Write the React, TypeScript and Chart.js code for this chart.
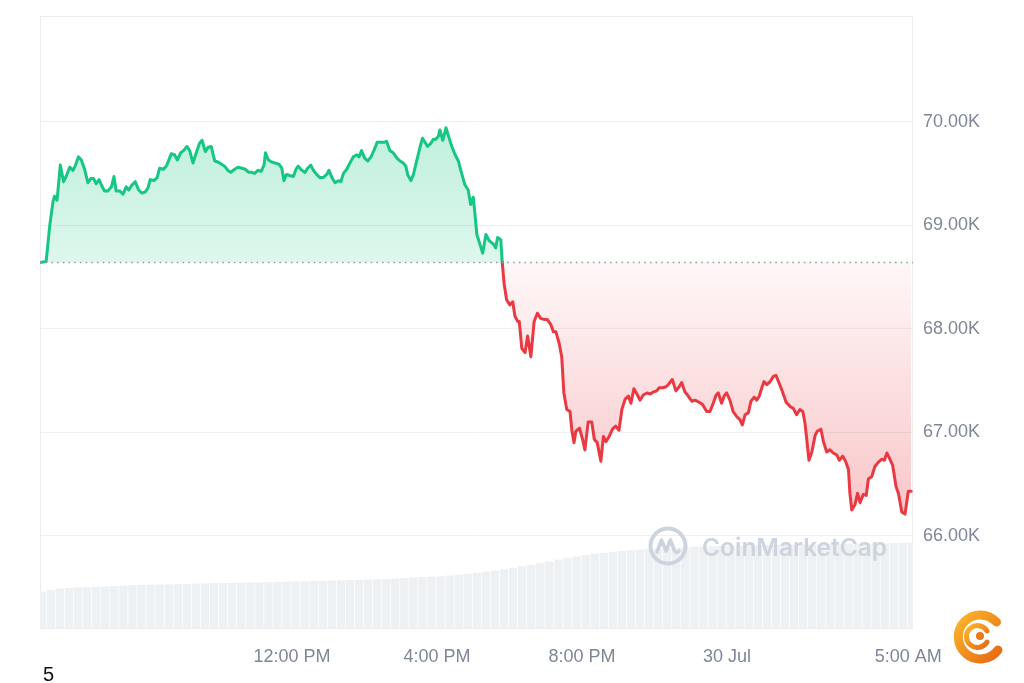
import React, { useEffect, useRef } from "react";
import { Chart, registerables } from "chart.js";

Chart.register(...registerables);

// ---- data (prices in thousands of USD, time in hours since 29 Jul 00:00) ----
const BASE_PRICE = 68.64;

const PRICE_TIMES = [
  5.05, 5.22, 5.32, 5.41, 5.45, 5.52, 5.61, 5.7, 5.77, 5.87, 5.96, 6.03, 6.11, 6.19, 6.28, 6.37, 6.45, 6.53, 6.6, 6.68,
  6.74, 6.83, 6.92, 7.02, 7.09, 7.15, 7.25, 7.34, 7.43, 7.5, 7.59, 7.68, 7.77, 7.86, 7.95, 8.03, 8.09, 8.19, 8.28, 8.35,
  8.46, 8.55, 8.67, 8.76, 8.84, 8.93, 9.01, 9.1, 9.18, 9.27, 9.36, 9.45, 9.52, 9.61, 9.68, 9.77, 9.87, 9.96, 10.05, 10.14,
  10.23, 10.31, 10.42, 10.51, 10.62, 10.71, 10.81, 10.9, 10.97, 11.06, 11.15, 11.23, 11.27, 11.35, 11.44, 11.53, 11.64, 11.72, 11.78, 11.85,
  11.94, 12.04, 12.11, 12.17, 12.27, 12.36, 12.43, 12.52, 12.59, 12.68, 12.77, 12.86, 12.96, 13.02, 13.1, 13.19, 13.28, 13.35, 13.42, 13.51,
  13.6, 13.69, 13.79, 13.85, 13.92, 14.0, 14.09, 14.18, 14.27, 14.35, 14.45, 14.54, 14.61, 14.7, 14.79, 14.89, 14.98, 15.07, 15.14, 15.19,
  15.28, 15.35, 15.44, 15.53, 15.6, 15.67, 15.74, 15.83, 15.9, 15.97, 16.04, 16.08, 16.16, 16.25, 16.31, 16.41, 16.5, 16.59, 16.68, 16.77,
  16.86, 16.93, 17.0, 17.05, 17.1, 17.19, 17.26, 17.35, 17.44, 17.55, 17.62, 17.67, 17.76, 17.8, 17.85, 17.92, 18.01, 18.09, 18.15, 18.23,
  18.27, 18.34, 18.43, 18.5, 18.59, 18.68, 18.77, 18.86, 18.95, 19.04, 19.14, 19.21, 19.28, 19.37, 19.44, 19.5, 19.58, 19.67, 19.72, 19.78,
  19.83, 19.93, 20.01, 20.08, 20.17, 20.27, 20.34, 20.42, 20.52, 20.59, 20.66, 20.75, 20.84, 20.93, 21.02, 21.1, 21.19, 21.28, 21.35, 21.43,
  21.53, 21.6, 21.69, 21.79, 21.88, 21.97, 22.06, 22.13, 22.23, 22.32, 22.38, 22.49, 22.59, 22.68, 22.75, 22.84, 22.93, 23.03, 23.12, 23.23,
  23.32, 23.44, 23.53, 23.62, 23.7, 23.76, 23.85, 23.92, 23.99, 24.08, 24.17, 24.27, 24.36, 24.42, 24.5, 24.59, 24.66, 24.75, 24.82, 24.89,
  24.96, 25.02, 25.1, 25.19, 25.28, 25.35, 25.42, 25.51, 25.63, 25.74, 25.83, 25.92, 26.01, 26.09, 26.15, 26.2, 26.26, 26.34, 26.43, 26.49,
  26.59, 26.66, 26.75, 26.84, 26.93, 27.03, 27.1, 27.19, 27.27, 27.35, 27.39, 27.44, 27.53, 27.6, 27.67, 27.76, 27.84, 27.9, 27.99, 28.08,
  28.17, 28.27, 28.34, 28.41, 28.48, 28.57, 28.66, 28.73, 28.82, 28.91, 29.0, 29.08,
];

const PRICE_VALUES = [
  68.64, 68.65, 69.0, 69.23, 69.28, 69.24, 69.58, 69.42, 69.47, 69.56, 69.53, 69.58, 69.66, 69.63, 69.54, 69.41, 69.45, 69.45, 69.4, 69.44,
  69.39, 69.33, 69.33, 69.37, 69.47, 69.33, 69.33, 69.3, 69.37, 69.34, 69.39, 69.42, 69.34, 69.31, 69.32, 69.36, 69.44, 69.43, 69.46, 69.55,
  69.54, 69.58, 69.69, 69.68, 69.63, 69.7, 69.72, 69.76, 69.72, 69.6, 69.7, 69.79, 69.82, 69.71, 69.75, 69.76, 69.62, 69.61, 69.59, 69.57,
  69.53, 69.51, 69.54, 69.56, 69.55, 69.54, 69.51, 69.51, 69.5, 69.53, 69.52, 69.58, 69.7, 69.63, 69.61, 69.6, 69.59, 69.55, 69.43, 69.49,
  69.48, 69.47, 69.54, 69.57, 69.53, 69.51, 69.55, 69.58, 69.53, 69.49, 69.46, 69.46, 69.49, 69.53, 69.46, 69.41, 69.43, 69.42, 69.5, 69.54,
  69.6, 69.66, 69.68, 69.66, 69.72, 69.65, 69.62, 69.66, 69.73, 69.8, 69.8, 69.8, 69.81, 69.72, 69.7, 69.65, 69.62, 69.6, 69.57, 69.49,
  69.43, 69.49, 69.62, 69.75, 69.84, 69.8, 69.76, 69.79, 69.83, 69.83, 69.86, 69.92, 69.82, 69.94, 69.87, 69.76, 69.68, 69.62, 69.5, 69.39,
  69.34, 69.2, 69.27, 69.1, 68.91, 68.81, 68.73, 68.91, 68.85, 68.82, 68.78, 68.88, 68.86, 68.64, 68.44, 68.28, 68.23, 68.26, 68.12, 68.07,
  68.07, 67.81, 67.77, 67.93, 67.73, 68.07, 68.15, 68.1, 68.09, 68.09, 68.04, 67.97, 67.97, 67.86, 67.73, 67.38, 67.22, 67.2, 67.02, 66.9,
  67.01, 67.04, 66.94, 66.83, 67.1, 67.1, 66.93, 66.9, 66.72, 66.96, 66.91, 66.96, 67.03, 67.06, 67.02, 67.22, 67.32, 67.35, 67.28, 67.42,
  67.36, 67.31, 67.36, 67.38, 67.37, 67.39, 67.4, 67.43, 67.43, 67.44, 67.46, 67.51, 67.4, 67.44, 67.48, 67.39, 67.35, 67.3, 67.31, 67.29,
  67.27, 67.2, 67.2, 67.28, 67.36, 67.38, 67.28, 67.35, 67.38, 67.31, 67.2, 67.15, 67.12, 67.07, 67.17, 67.19, 67.3, 67.34, 67.31, 67.35,
  67.43, 67.49, 67.46, 67.49, 67.54, 67.55, 67.49, 67.41, 67.29, 67.25, 67.23, 67.17, 67.22, 67.2, 67.09, 66.93, 66.73, 66.81, 66.97, 67.01,
  67.03, 66.91, 66.81, 66.83, 66.8, 66.78, 66.73, 66.77, 66.72, 66.64, 66.41, 66.25, 66.3, 66.41, 66.32, 66.4, 66.39, 66.55, 66.57, 66.67,
  66.71, 66.74, 66.73, 66.8, 66.75, 66.68, 66.48, 66.41, 66.23, 66.21, 66.43, 66.43,
];

// volume bars (billions USD), one every quarter hour starting 05:06
const VOLUME_START = 5.1;
const VOLUME_STEP = 0.25;
const VOLUME_VALUES = [
  14.3, 14.9, 15.5, 15.7, 15.9, 16.0, 16.2, 16.3, 16.5, 16.6, 16.8, 16.9, 17.0, 17.1, 17.1, 17.2, 17.3, 17.4, 17.5, 17.6,
  17.6, 17.7, 17.8, 17.9, 17.9, 18.0, 18.1, 18.2, 18.3, 18.3, 18.4, 18.5, 18.6, 18.7, 18.8, 18.9, 19.0, 19.1, 19.2, 19.4,
  19.6, 19.8, 20.0, 20.2, 20.3, 20.6, 20.9, 21.3, 21.7, 22.1, 22.5, 23.0, 23.6, 24.2, 24.8, 25.4, 26.1, 26.8, 27.5, 28.1,
  28.6, 29.1, 29.5, 29.9, 30.2, 30.5, 30.7, 30.9, 31.1, 31.3, 31.5, 31.7, 31.9, 32.0, 32.1, 32.2, 32.3, 32.4, 32.5, 32.5,
  32.6, 32.6, 32.7, 32.7, 32.8, 32.8, 32.9, 32.9, 33.0, 33.0, 33.1, 33.1, 33.2, 33.2, 33.3, 33.4, 33.5,
];

const Y_TICKS = [66, 67, 68, 69, 70];
const X_TICKS = [12, 16, 20, 24, 29];
const X_TICK_LABELS = ["12:00 PM", "4:00 PM", "8:00 PM", "30 Jul", "5:00 AM"];

const X_MIN = 5.05;
const X_MAX = 29.13;
const Y_MIN = 65.11;
const Y_MAX = 71.02;
const VOL_MAX = 240;

const GREEN = "#16c784";
const RED = "#ea3943";
const FONT = "'Liberation Sans', Arial, Helvetica, sans-serif";

const boxPlugin = {
  id: "plotBox",
  beforeDatasetsDraw(chart: any) {
    const { ctx, chartArea } = chart;
    ctx.save();
    ctx.strokeStyle = "#ececec";
    ctx.lineWidth = 1;
    ctx.strokeRect(chartArea.left + 0.5, chartArea.top + 0.5, chartArea.width - 1, chartArea.height);
    ctx.restore();
  },
};

function App() {
  const canvasRef = useRef<HTMLCanvasElement | null>(null);

  useEffect(() => {
    const canvas = canvasRef.current;
    if (!canvas) return;

    const pricePoints = PRICE_TIMES.map((t, i) => ({ x: t, y: PRICE_VALUES[i] }));
    const volumePoints = VOLUME_VALUES.map((v, i) => ({ x: VOLUME_START + i * VOLUME_STEP, y: v }));
    const basePoints = [
      { x: X_MIN, y: BASE_PRICE },
      { x: X_MAX, y: BASE_PRICE },
    ];

    const fillGradient = (context: any) => {
      const chart = context.chart;
      const area = chart.chartArea;
      if (!area) return "rgba(22,199,132,0.2)";
      const yScale = chart.scales.y;
      const baseY = yScale.getPixelForValue(BASE_PRICE);
      let f = (baseY - area.top) / (area.bottom - area.top);
      f = Math.min(Math.max(f, 0.001), 0.998);
      const g = chart.ctx.createLinearGradient(0, area.top, 0, area.bottom);
      g.addColorStop(0, "rgba(22,199,132,0.38)");
      g.addColorStop(f, "rgba(22,199,132,0.14)");
      g.addColorStop(f + 0.001, "rgba(234,57,67,0.04)");
      g.addColorStop(1, "rgba(234,57,67,0.40)");
      return g;
    };

    const chart = new Chart(canvas, {
      data: {
        datasets: [
          {
            type: "line",
            label: "Price",
            data: pricePoints,
            yAxisID: "y",
            borderWidth: 3,
            borderColor: GREEN,
            borderJoinStyle: "round",
            borderCapStyle: "round",
            pointRadius: 0,
            tension: 0,
            backgroundColor: fillGradient,
            fill: { target: { value: BASE_PRICE } },
            segment: {
              borderColor: (ctx: any) =>
                (ctx.p0.parsed.y + ctx.p1.parsed.y) / 2 >= BASE_PRICE ? GREEN : RED,
            },
            order: 2,
          },
          {
            type: "line",
            label: "Open",
            data: basePoints,
            yAxisID: "y",
            borderColor: "#9c9c9c",
            borderWidth: 1.6,
            borderDash: [1.6, 4.1],
            pointRadius: 0,
            fill: false,
            order: 1,
          },
          {
            type: "bar",
            label: "Volume",
            data: volumePoints,
            yAxisID: "yVol",
            backgroundColor: "#eef1f4",
            borderWidth: 0,
            barPercentage: 0.93,
            categoryPercentage: 1,
            order: 3,
          },
        ],
      } as any,
      options: {
        animation: false,
        responsive: false,
        devicePixelRatio: 1,
        layout: { padding: { left: 40, top: 16, right: 0, bottom: 0 } },
        plugins: {
          legend: { display: false },
          tooltip: { enabled: false },
        },
        scales: {
          x: {
            type: "linear",
            offset: false,
            min: X_MIN,
            max: X_MAX,
            afterFit: (s: any) => {
              s.height = 55;
              s.paddingLeft = 0;
              s.paddingRight = 0;
            },
            afterBuildTicks: (s: any) => {
              s.ticks = X_TICKS.map((v) => ({ value: v }));
            },
            grid: { display: false, drawTicks: false, offset: false },
            border: { display: false },
            ticks: {
              padding: 18,
              maxRotation: 0,
              autoSkip: false,
              color: "#7f8796",
              font: { family: FONT, size: 18 },
              callback: (v: any) => {
                const i = X_TICKS.indexOf(Number(v));
                return i >= 0 ? X_TICK_LABELS[i] : "";
              },
            },
          },
          y: {
            type: "linear",
            position: "right",
            min: Y_MIN,
            max: Y_MAX,
            afterFit: (s: any) => {
              s.width = 111;
              s.paddingTop = 0;
              s.paddingBottom = 0;
            },
            afterBuildTicks: (s: any) => {
              s.ticks = Y_TICKS.map((v) => ({ value: v }));
            },
            grid: { color: "#eef0f3", lineWidth: 1, drawTicks: false },
            border: { display: false },
            ticks: {
              padding: 10,
              color: "#7f8796",
              font: { family: FONT, size: 18 },
              callback: (v: any) => Number(v).toFixed(2) + "K",
            },
          },
          yVol: {
            type: "linear",
            display: false,
            min: 0,
            max: VOL_MAX,
          },
        },
      } as any,
      plugins: [boxPlugin],
    });

    return () => {
      chart.destroy();
    };
  }, []);

  return (
    <div
      style={{
        position: "absolute",
        left: 0,
        top: 0,
        width: 1024,
        height: 683,
        background: "#ffffff",
        overflow: "hidden",
      }}
    >
      <canvas
        ref={canvasRef}
        width={1024}
        height={683}
        style={{ position: "absolute", left: 0, top: 0, width: 1024, height: 683 }}
      />
      {/* watermark */}
      <svg
        width={44}
        height={44}
        viewBox="0 0 44 44"
        style={{ position: "absolute", left: 646, top: 524 }}
      >
        <circle cx={22} cy={22} r={17.5} fill="none" stroke="#cdd4de" strokeWidth={4} />
        <path
          d="M11 28 L15.5 16 L20 27 L24.5 16 L28.5 27 Q30 30 33 27"
          fill="none"
          stroke="#cdd4de"
          strokeWidth={3.6}
          strokeLinejoin="round"
          strokeLinecap="round"
        />
      </svg>
      <div
        style={{
          position: "absolute",
          left: 702,
          top: 535,
          fontFamily: "Inter, 'Open Sans', sans-serif",
          fontWeight: 600,
          fontSize: 24.5,
          lineHeight: "24px",
          color: "#cdd4de",
          whiteSpace: "nowrap",
        }}
      >
        CoinMarketCap
      </div>
      {/* corner mark */}
      <div
        style={{
          position: "absolute",
          left: 43,
          top: 664,
          fontFamily: FONT,
          fontSize: 20,
          lineHeight: "20px",
          color: "#111111",
        }}
      >
        5
      </div>
      {/* orange emblem */}
      <svg
        width={60}
        height={60}
        viewBox="0 0 60 60"
        style={{ position: "absolute", left: 947, top: 606 }}
      >
        <defs>
          <linearGradient id="og" x1="0" y1="0" x2="1" y2="1">
            <stop offset="0" stopColor="#fbb62b" />
            <stop offset="1" stopColor="#e86a12" />
          </linearGradient>
        </defs>
        <path
          d="M49.5 16 A22 22 0 1 0 51 44"
          fill="none"
          stroke="url(#og)"
          strokeWidth={9}
          strokeLinecap="round"
        />
        <path
          d="M40 25 A11 11 0 1 0 40 36"
          fill="none"
          stroke="url(#og)"
          strokeWidth={5}
          strokeLinecap="round"
        />
        <circle cx={33} cy={30} r={4} fill="#e97a16" />
      </svg>
    </div>
  );
}

export default App;
